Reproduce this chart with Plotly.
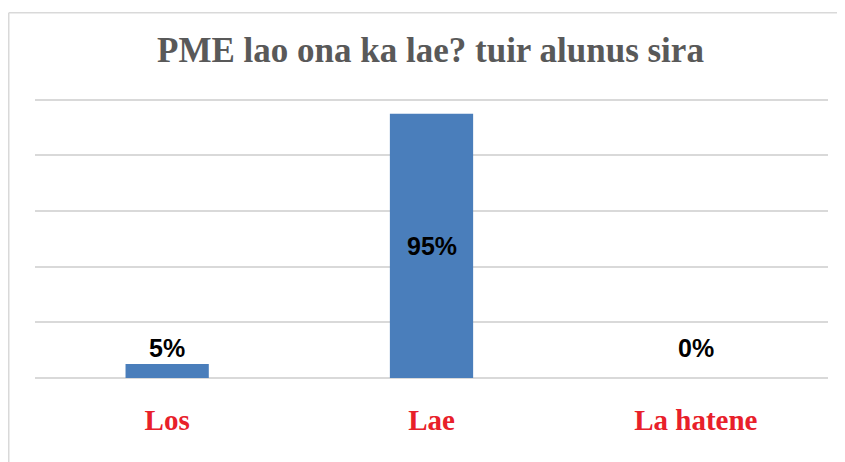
import plotly.graph_objects as go

# chart data
categories = ["Los", "Lae", "La hatene"]
values = [5, 95, 0]
labels = ["5%", "95%", "0%"]

fig = go.Figure()
fig.add_trace(go.Bar(
    x=categories,
    y=values,
    marker=dict(color="#4A7EBB", line=dict(width=0)),
    hoverinfo="skip",
))

# data labels: inside for the tall bar, just above the others
label_font = dict(family="Liberation Sans, Arial", size=25, color="#000000")
for cat, val, lab in zip(categories, values, labels):
    if val > 50:
        fig.add_annotation(x=cat, y=val / 2, text="<b>" + lab + "</b>", showarrow=False,
                           font=label_font)
    else:
        fig.add_annotation(x=cat, y=val, text="<b>" + lab + "</b>", showarrow=False,
                           yanchor="bottom", yshift=0 if val > 0 else 14, font=label_font)

# outer chart border: only the left and top edges show in the original
border = dict(color="#D9D9D9", width=1.5)
fig.add_shape(type="line", xref="paper", yref="paper",
              x0=-0.0331, x1=-0.0331, y0=-0.5, y1=1.3, line=border, layer="below")
fig.add_shape(type="line", xref="paper", yref="paper",
              x0=-0.0331, x1=1.2, y0=1.3, y1=1.3, line=border, layer="below")

fig.update_layout(
    width=845,
    height=462,
    margin=dict(l=27, r=25, t=89, b=92),
    paper_bgcolor="white",
    plot_bgcolor="white",
    bargap=0.685,
    showlegend=False,
    title=dict(
        text="<b>PME lao ona ka lae? tuir alunus sira</b>",
        x=0.5, xanchor="center", y=0.91, yanchor="middle",
        font=dict(family="Liberation Serif, Times New Roman", size=35, color="#595959"),
    ),
    xaxis=dict(
        showline=False, ticks="", ticklabelstandoff=22,
        tickfont=dict(family="Liberation Serif, Times New Roman", size=29, color="#E8202A"),
        tickprefix="<b>", ticksuffix="</b>",
    ),
    yaxis=dict(
        range=[0, 101], tick0=0, dtick=20, showticklabels=False,
        showgrid=True, gridcolor="#D9D9D9", gridwidth=1.5,
        zeroline=True, zerolinecolor="#D9D9D9", zerolinewidth=1.5,
    ),
)

fig.write_html("out.html")
